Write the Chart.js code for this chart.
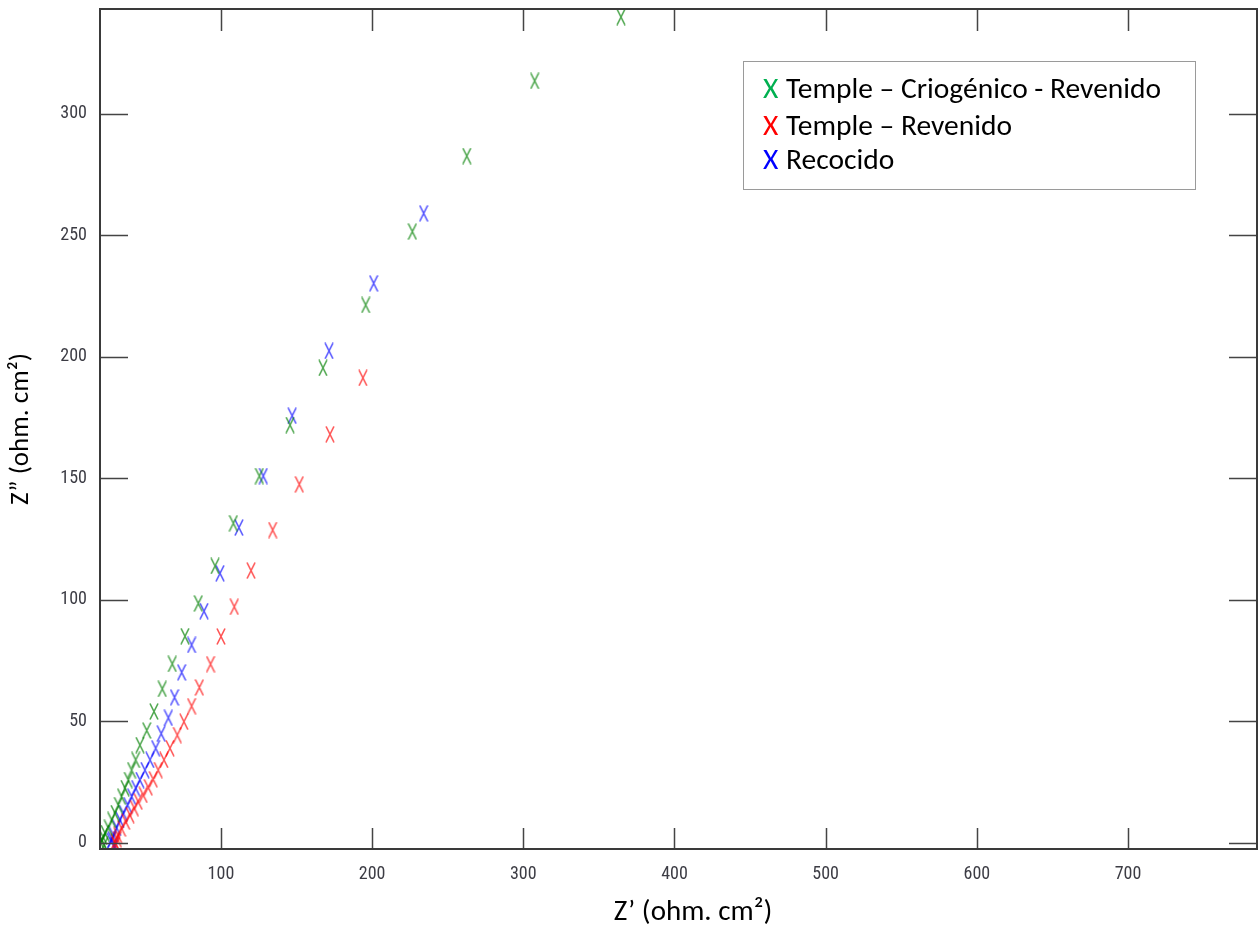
<!DOCTYPE html>
<html>
<head>
<meta charset="utf-8">
<script src="https://cdn.jsdelivr.net/npm/chart.js@4/dist/chart.umd.min.js"></script>
<style>
  html, body { margin: 0; padding: 0; background: #ffffff; }
  canvas { display: block; }
</style>
</head>
<body>
<canvas id="nyquist" width="1258" height="928"></canvas>
<script>
// Nyquist data: real part Z' and imaginary part Z'' (ohm. cm²)
const criogenicoRe = [20.6, 21.3, 22.6, 22.0, 23.3, 25.5, 27.7, 29.9, 32.1, 34.3, 36.5, 38.7, 40.9, 43.6, 46.4, 50.9, 55.7, 61.2, 67.8, 76.2, 85.0, 96.1, 108.2, 125.4, 145.7, 167.5, 195.7, 226.6, 262.6, 307.5, 364.6];
const criogenicoIm = [0.0, 1.2, -0.8, 2.5, 4.1, 6.2, 9.5, 12.3, 15.6, 19.1, 22.6, 25.9, 30.0, 34.2, 40.3, 46.3, 54.1, 63.4, 73.7, 85.1, 98.6, 114.0, 131.6, 151.0, 172.0, 195.5, 221.4, 251.6, 282.7, 313.6, 339.9];

const revenidoRe = [30.5, 31.5, 29.9, 31.7, 34.3, 37.0, 39.8, 42.7, 45.3, 48.6, 51.9, 55.2, 58.5, 62.3, 66.3, 71.1, 75.5, 80.6, 85.7, 93.1, 100.0, 108.8, 119.9, 134.2, 151.8, 172.1, 193.9];
const revenidoIm = [-0.8, 1.5, 0.5, 3.3, 6.0, 8.8, 11.5, 14.3, 17.0, 19.8, 22.9, 26.2, 30.0, 34.2, 39.0, 44.4, 49.9, 56.3, 64.0, 73.6, 85.0, 97.2, 112.1, 128.8, 147.6, 168.2, 191.4];

const recocidoRe = [29.5, 28.0, 27.3, 28.8, 31.0, 33.2, 35.4, 38.3, 40.9, 43.6, 46.4, 49.7, 53.1, 56.8, 60.5, 65.2, 69.3, 74.0, 80.6, 88.8, 99.4, 111.9, 128.0, 147.1, 171.5, 201.0, 234.1];
const recocidoIm = [-1.0, 1.5, 0.8, 3.3, 6.2, 9.5, 12.3, 15.6, 19.1, 22.6, 25.9, 30.0, 34.2, 39.0, 45.0, 51.5, 59.9, 70.2, 81.5, 95.4, 111.0, 129.8, 151.0, 175.8, 202.5, 230.3, 259.1];

const seriesLabels = ['Temple – Criogénico - Revenido', 'Temple – Revenido', 'Recocido'];
const xTickValues = [100, 200, 300, 400, 500, 600, 700];
const yTickValues = [0, 50, 100, 150, 200, 250, 300];

const textFont = "Carlito, Lato, 'Open Sans', sans-serif";
const tickFont = "'Liberation Sans Narrow', 'Roboto Condensed', 'Open Sans Condensed', 'DejaVu Sans Condensed', 'DejaVu Sans', sans-serif";

// "X" shaped marker drawn once per colour and reused as the point style
function xMarker(color) {
  const c = document.createElement('canvas');
  c.width = 10; c.height = 17;
  const g = c.getContext('2d');
  g.strokeStyle = color;
  g.lineWidth = 1.6;
  g.beginPath();
  g.moveTo(1, 0.5); g.lineTo(9, 16.5);
  g.moveTo(9, 0.5); g.lineTo(1, 16.5);
  g.stroke();
  return c;
}

function toPoints(re, im) {
  return re.map((v, i) => ({ x: v, y: im[i] }));
}

// keep the plot box exactly where the axes put it (no label overhang padding)
function noOverhang(s) {
  s.paddingTop = 0; s.paddingBottom = 0; s.paddingLeft = 0; s.paddingRight = 0;
}

// Boxed frame with inward tick marks on all four sides
const framePlugin = {
  id: 'frame',
  afterDatasetsDraw(chart) {
    const { ctx, chartArea: a, scales: { x, y } } = chart;
    ctx.save();
    ctx.strokeStyle = '#444444';
    ctx.lineWidth = 1.5;
    ctx.beginPath();
    x.ticks.forEach(t => {
      const px = Math.round(x.getPixelForValue(t.value)) + 0.5;
      ctx.moveTo(px, a.bottom); ctx.lineTo(px, a.bottom - 21);
      ctx.moveTo(px, a.top); ctx.lineTo(px, a.top + 22);
    });
    y.ticks.forEach(t => {
      const py = Math.round(y.getPixelForValue(t.value)) + 0.5;
      ctx.moveTo(a.left, py); ctx.lineTo(a.left + 28, py);
      ctx.moveTo(a.right, py); ctx.lineTo(a.right - 28, py);
    });
    ctx.stroke();
    ctx.strokeStyle = '#3a3a3a';
    ctx.lineWidth = 2;
    ctx.strokeRect(a.left, a.top, a.right - a.left, a.bottom - a.top);
    ctx.restore();
  }
};

// Boxed legend in the upper right of the plot
const legendBoxPlugin = {
  id: 'legendBox',
  afterDraw(chart) {
    const { ctx } = chart;
    ctx.save();
    ctx.strokeStyle = '#9a9a9a';
    ctx.lineWidth = 1;
    ctx.strokeRect(743.5, 61.5, 452, 128);
    ctx.font = '29.5px ' + textFont;
    ctx.textAlign = 'left';
    ctx.textBaseline = 'alphabetic';
    const baselines = [98, 135, 169];
    chart.data.datasets.forEach((ds, i) => {
      ctx.fillStyle = ds.legendColor;
      ctx.fillText('X', 763, baselines[i]);
      ctx.fillStyle = '#000000';
      ctx.fillText(ds.label, 786, baselines[i]);
    });
    ctx.restore();
  }
};

new Chart(document.getElementById('nyquist'), {
  type: 'scatter',
  data: {
    datasets: [
      {
        label: seriesLabels[0],
        data: toPoints(criogenicoRe, criogenicoIm),
        pointStyle: xMarker('rgba(0,128,0,0.7)'),
        legendColor: '#00b050',
        pointRadius: 8,
        clip: 0
      },
      {
        label: seriesLabels[1],
        data: toPoints(revenidoRe, revenidoIm),
        pointStyle: xMarker('rgba(255,0,0,0.68)'),
        legendColor: '#ff0000',
        pointRadius: 8,
        clip: 0
      },
      {
        label: seriesLabels[2],
        data: toPoints(recocidoRe, recocidoIm),
        pointStyle: xMarker('rgba(0,0,255,0.68)'),
        legendColor: '#0000ff',
        pointRadius: 8,
        clip: 0
      }
    ]
  },
  options: {
    responsive: false,
    animation: false,
    devicePixelRatio: 1,
    layout: { autoPadding: false, padding: { top: 9, right: 1, left: 0, bottom: 0 } },
    plugins: { legend: { display: false }, tooltip: { enabled: false } },
    scales: {
      x: {
        type: 'linear',
        min: 20,
        max: 785.3,
        afterFit(s) { s.height = 79; noOverhang(s); },
        afterBuildTicks(s) { s.ticks = xTickValues.map(v => ({ value: v })); },
        grid: { display: false, drawTicks: false },
        border: { display: false },
        ticks: {
          padding: 15, maxRotation: 0, autoSkip: false,
          color: '#3c3c44',
          font: { family: tickFont, size: 18, weight: 'condensed' }
        },
        title: {
          display: true,
          text: '\u2003Z’ (ohm. cm²)',
          color: '#000000',
          font: { family: textFont, size: 29, lineHeight: 1 },
          padding: { top: 0, bottom: 1 }
        }
      },
      y: {
        type: 'linear',
        min: -2.47,
        max: 343.2,
        afterFit(s) { s.width = 100; noOverhang(s); },
        afterBuildTicks(s) { s.ticks = yTickValues.map(v => ({ value: v })); },
        grid: { display: false, drawTicks: false },
        border: { display: false },
        ticks: {
          padding: 13,
          color: '#3c3c44',
          font: { family: tickFont, size: 18, weight: 'condensed' }
        },
        title: {
          display: true,
          text: 'Z” (ohm. cm²)',
          color: '#000000',
          font: { family: textFont, size: 27, lineHeight: 1 },
          padding: { top: 8, bottom: 0 }
        }
      }
    }
  },
  plugins: [framePlugin, legendBoxPlugin]
});
</script>
</body>
</html>
